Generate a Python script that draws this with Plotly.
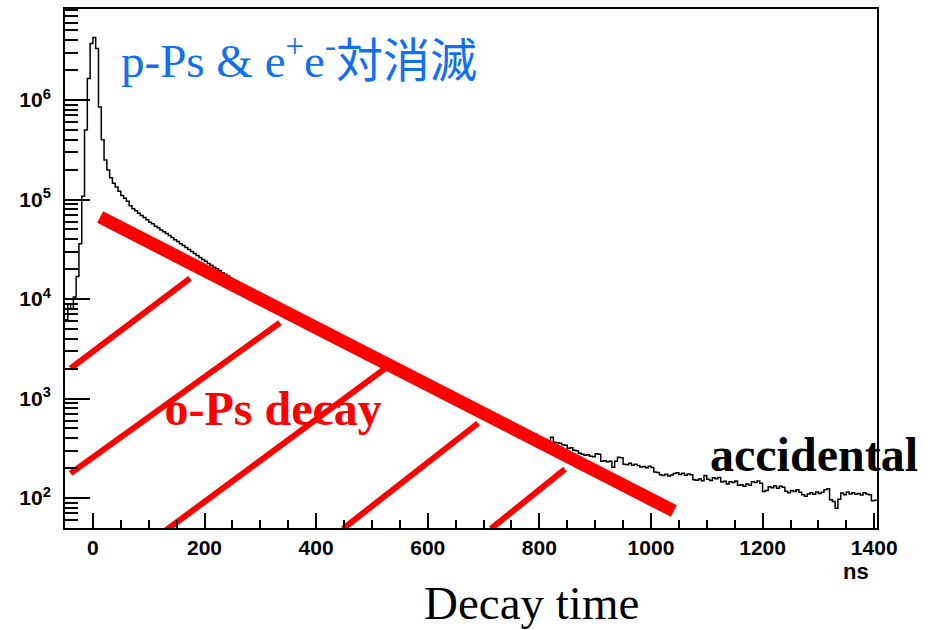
import plotly.graph_objects as go

# Decay-time histogram: 5 ns bins, left edges from -50 ns
bin_start = -50
bin_width = 5
counts = [
    6200, 8900, 7900, 10500, 16800, 36000, 108000, 500000, 1650000, 3700000,      # -50 .. -5
    4250000, 3300000, 850000, 400000, 250000, 198000, 166000, 146000, 134000, 121000,  # 0 .. 45
    110000, 103000, 96000, 86500, 81000, 77000, 73000, 69000, 66000, 62500,       # 50 .. 95
    59000, 57000, 54000, 52000, 49500, 47500, 45500, 43500, 41500, 39500,         # 100 .. 145
    37800, 36000, 34500, 33000, 31500, 30000, 28600, 27400, 26200, 25000,         # 150 .. 195
    23900, 22800, 21800, 20800, 20200, 19300, 18400, 17700, 17020, 16100,         # 200 .. 245
    15240, 14390, 13950, 13450, 13060, 12580, 12240, 11760, 11450, 11010,         # 250 .. 295
    10720, 10310, 10030, 9650, 9390, 9030, 8790, 8450, 8230, 7900,                # 300 .. 345
    7700, 7400, 7210, 6930, 6750, 6480, 6320, 6070, 5930, 5680,                   # 350 .. 395
    5540, 5310, 5190, 4970, 4860, 4650, 4550, 4350, 4260, 4070,                   # 400 .. 445
    3990, 3810, 3730, 3560, 3490, 3340, 3280, 3120, 3070, 2920,                   # 450 .. 495
    2870, 2730, 2690, 2560, 2520, 2390, 2360, 2230, 2210, 2090,                   # 500 .. 545
    2070, 1950, 1940, 1830, 1820, 1710, 1710, 1600, 1610, 1500,                   # 550 .. 595
    1490, 1400, 1400, 1310, 1320, 1230, 1230, 1150, 1160, 1080,                   # 600 .. 645
    1070, 1000, 1010, 940, 945, 875, 880, 820, 825, 770,                          # 650 .. 695
    776, 720, 730, 672, 690, 630, 636, 590, 600, 552,                             # 700 .. 745
    560, 515, 525, 482, 498, 452, 462, 425, 438, 398,                             # 750 .. 795
    400, 370, 380, 350, 407, 363, 359, 355, 343, 339,                             # 800 .. 845
    316, 320, 302, 299, 282, 275, 269, 272, 263, 260,                             # 850 .. 895
    279, 275, 234, 237, 232, 234, 204, 234, 257, 254,                             # 900 .. 945
    219, 216, 223, 214, 219, 212, 205, 207, 201, 208,                             # 950 .. 995
    203, 183, 180, 171, 168, 173, 166, 170, 176, 179,                             # 1000 .. 1045
    172, 177, 169, 174, 171, 153, 151, 155, 149, 168,                             # 1050 .. 1095
    154, 150, 160, 156, 161, 145, 147, 138, 146, 143,                             # 1100 .. 1145
    148, 134, 136, 131, 138, 134, 146, 143, 148, 141,                             # 1150 .. 1195
    116, 119, 130, 127, 132, 125, 131, 128, 117, 113,                             # 1200 .. 1245
    119, 116, 121, 114, 108, 104, 110, 113, 109, 115,                             # 1250 .. 1295
    111, 114, 121, 124, 96, 92, 79, 97, 112, 108,                                 # 1300 .. 1345
    115, 110, 113, 109, 111, 107, 113, 110, 108, 94,                              # 1350 .. 1395
    95,                                                                           # 1400
]

# o-Ps exponential guide line (time in ns, counts)
ops_t = [13, 1041]
ops_y = [66700, 74]

# hatching under the o-Ps line: start/end points (ns, counts)
hatch_t0 = [-40, -40, 123, 448, 713]
hatch_y0 = [2010, 177, 44, 49, 49]
hatch_t1 = [174, 335, 525, 690, 846]
hatch_y1 = [16150, 5780, 2030, 564, 195]

# axes
x_range = [-50, 1405]
y_log_range = [1.6985, 6.915]
y_major_vals = [1e2, 1e3, 1e4, 1e5, 1e6]
y_major_text = ["10<sup>2</sup>", "10<sup>3</sup>", "10<sup>4</sup>", "10<sup>5</sup>", "10<sup>6</sup>"]
y_minor_vals = [k * 10 ** e for e in range(1, 7) for k in range(2, 10)]

edges = [bin_start + bin_width * i for i in range(len(counts) + 1)]
steps = counts + [counts[-1]]

RED = "#ff0000"
BLUE = "#1170f0"
SERIF = "Liberation Serif, Times New Roman, serif"
SANS = "Liberation Sans, Arial, sans-serif"
TICKFONT = dict(family=SANS, size=21, color="black", weight="bold")

fig = go.Figure()

fig.add_trace(go.Scatter(
    x=edges, y=steps, mode="lines",
    line=dict(shape="hv", color="black", width=1.5),
    hoverinfo="skip", showlegend=False,
))

fig.add_trace(go.Scatter(
    x=[323], y=[715], mode="text",
    text=["<b>o-Ps decay</b>"],
    textposition="middle center",
    textfont=dict(family=SERIF, size=48, color=RED),
    cliponaxis=False, showlegend=False, hoverinfo="skip",
))

for t0, y0, t1, y1 in zip(hatch_t0, hatch_y0, hatch_t1, hatch_y1):
    fig.add_trace(go.Scatter(
        x=[t0, t1], y=[y0, y1], mode="lines",
        line=dict(color=RED, width=6),
        showlegend=False, hoverinfo="skip",
    ))

fig.add_trace(go.Scatter(
    x=ops_t, y=ops_y, mode="lines",
    line=dict(color=RED, width=13),
    showlegend=False, hoverinfo="skip",
))

fig.update_layout(
    width=930, height=630,
    margin=dict(l=65, r=53, t=9, b=102, pad=0),
    paper_bgcolor="white", plot_bgcolor="white",
    showlegend=False,
    xaxis=dict(
        range=x_range, tick0=0, dtick=200, automargin=False,
        ticks="inside", ticklen=15, tickwidth=2, tickcolor="black",
        minor=dict(dtick=50, tick0=0, ticks="inside", ticklen=8, tickwidth=2, tickcolor="black", showgrid=False),
        showline=True, mirror=True, linecolor="black", linewidth=2,
        showgrid=False, zeroline=False,
        tickfont=TICKFONT,
        ticklabelstandoff=0,
    ),
    yaxis=dict(
        type="log", range=y_log_range, automargin=False,
        tickmode="array", tickvals=y_major_vals, ticktext=y_major_text,
        ticks="inside", ticklen=25, tickwidth=2, tickcolor="black",
        minor=dict(tickmode="array", tickvals=y_minor_vals, ticks="inside", ticklen=13,
                   tickwidth=2, tickcolor="black", showgrid=False),
        showline=True, mirror=True, linecolor="black", linewidth=2,
        showgrid=False, zeroline=False,
        tickfont=TICKFONT,
        ticklabelstandoff=8,
    ),
    annotations=[
        dict(text="p-Ps &amp; e<sup>+</sup>e<sup>-</sup>対消滅",
             xref="paper", yref="paper", x=0.0665, y=0.906,
             xanchor="left", yanchor="middle", showarrow=False,
             font=dict(family="Liberation Serif, Noto Sans CJK JP, serif", size=47, color=BLUE)),
        dict(text="<b>accidental</b>",
             xref="paper", yref="paper", x=0.9218, y=0.1407,
             xanchor="center", yanchor="middle", showarrow=False,
             font=dict(family=SERIF, size=48, color="black")),
        dict(text="Decay time",
             xref="paper", yref="paper", x=0.5739, y=-0.1445,
             xanchor="center", yanchor="middle", showarrow=False,
             font=dict(family=SERIF, size=47, color="black")),
        dict(text="<b>ns</b>",
             xref="paper", yref="paper", x=0.9741, y=-0.0829,
             xanchor="center", yanchor="middle", showarrow=False,
             font=dict(family=SANS, size=22, color="black")),
    ],
)

fig.write_html("out.html")
